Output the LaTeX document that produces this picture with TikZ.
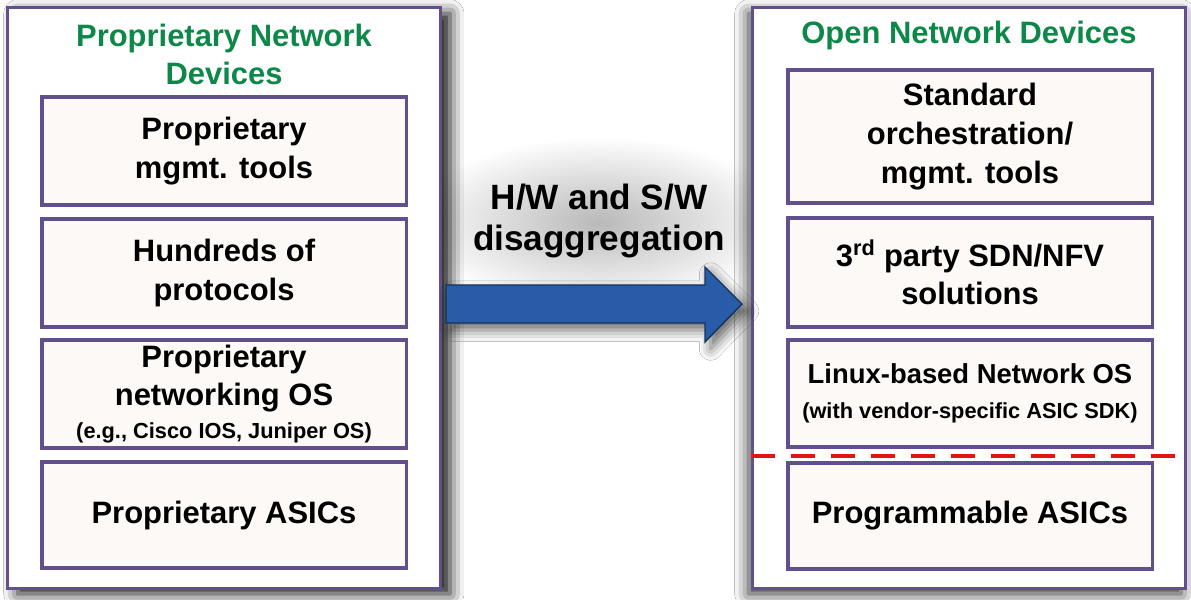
\documentclass[tikz,border=0pt]{standalone}
\usepackage{fontspec}
\setmainfont{Liberation Sans}
\usetikzlibrary{shadows.blur}

\definecolor{frame}{RGB}{98,80,142}
\definecolor{headgreen}{RGB}{14,136,72}
\definecolor{layerfill}{RGB}{252,249,247}
\definecolor{arrowblue}{RGB}{40,92,168}
\definecolor{cutred}{RGB}{226,20,20}
\newcommand\notesize{\fontsize{15.5}{18.5}\selectfont}

\begin{document}
\begin{tikzpicture}[x=0.025cm,y=-0.025cm,
 device/.style={draw=frame,line width=2.2pt,fill=white,inner sep=0pt,
  minimum width=10.8cm,minimum height=14.5cm},
 layer/.style={draw=frame,line width=2.2pt,fill=layerfill,inner sep=0pt,
  minimum width=9.1cm,align=center,font=\bfseries\fontsize{22}{27.5}\selectfont},
 heading/.style={text=headgreen,align=center,font=\bfseries\fontsize{22}{27}\selectfont},
 cut/.style={cutred,line width=3.2pt,dash pattern=on 17pt off 11.4pt}]
% white page, soft haze behind the middle words
\fill[white] (0,0) rectangle (1191,599);
\shade[inner color=gray!55,outer color=white] (599,222) ellipse [x radius=190,y radius=85];
% left: closed boxes
\node[device,blur shadow={shadow xshift=7pt,shadow yshift=-4pt,shadow blur radius=10pt,shadow opacity=95}]
 (propdev) at (224,298) {};
\node[heading] (proptitle) at (224,54) {Proprietary Network\\Devices};
\node[layer,minimum height=2.7cm] (proptools) at (224,151) {Proprietary\\mgmt. tools};
\node[layer,minimum height=2.7cm] (propproto) at (224,273) {Hundreds of\\protocols};
\node[layer,minimum height=2.7cm] (propos) at (224,394)
 {Proprietary\\networking OS\\[-4pt]{\notesize(e.g., Cisco IOS, Juniper OS)}};
\node[layer,minimum height=2.65cm] (propasic) at (224,515) {Proprietary ASICs};
% right: open boxes
\node[device,blur shadow={shadow xshift=-3pt,shadow yshift=-4pt,shadow blur radius=10pt,shadow opacity=85}]
 (opendev) at (969,298) {};
\node[heading] (opentitle) at (969,35) {Open Network Devices};
\node[layer,minimum height=3.325cm] (opentools) at (970,136.5)
 {Standard\\orchestration/\\mgmt. tools};
\node[layer,minimum height=2.725cm] (opensdn) at (970,272.5)
 {3\textsuperscript{rd} party SDN/NFV\\solutions};
\node[layer,minimum height=2.675cm] (openos) at (970,393.5)
 {\fontsize{19.5}{23}\selectfont Linux-based Network OS\\[-3pt]{\notesize(with vendor-specific ASIC SDK)}};
\node[layer,minimum height=2.65cm] (openasic) at (970,516) {Programmable ASICs};
\draw[cut] (opendev.west |- 0,456) -- (opendev.east |- 0,456);
% block arrow between the two
\node[align=center,font=\bfseries\fontsize{25}{29}\selectfont] (split) at (599,221)
 {H/W and S/W\\disaggregation};
\draw[fill=arrowblue,draw=arrowblue!55!black,line width=1pt,
 blur shadow={shadow xshift=4pt,shadow yshift=-5pt,shadow blur radius=8pt,shadow opacity=60}]
 (446,285) -- (705,285) -- (705,267) -- (742,304) -- (705,342) -- (705,323) -- (446,323) -- cycle;
\end{tikzpicture}
\end{document}
